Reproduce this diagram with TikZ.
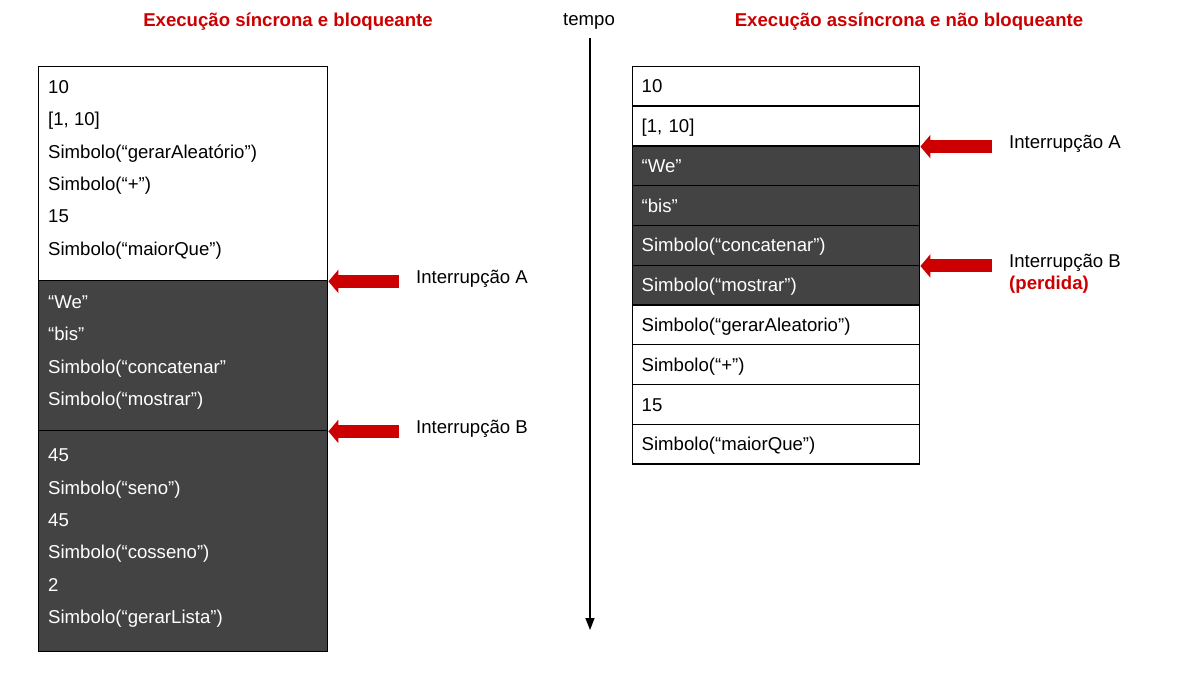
\documentclass[tikz,border=0pt]{standalone}
\usepackage{fontspec}
\setmainfont{Liberation Sans}
\usetikzlibrary{arrows.meta}
\definecolor{vermelho}{HTML}{CC0000}
\definecolor{escuro}{HTML}{434343}
\tikzset{
  caixa/.style={draw=black, line width=1.4pt, fill=white, inner sep=0pt, anchor=north west},
  escura/.style={caixa, fill=escuro, text=white},
  linha/.style={anchor=base west, inner sep=0pt},
  clara/.style={linha, text=white},
  titulo/.style={text=vermelho, font=\fontsize{18.6}{22}\selectfont\bfseries},
  rotulo/.style={anchor=base west, inner sep=0pt},
  interr/.style={vermelho, line width=13pt, -{Triangle[length=10pt,width=23pt]}, shorten <=17pt},
  registro/.style={minimum width=287pt, minimum height=39.8pt, text width=269pt,
    inner xsep=9pt, text height=13.3pt, text depth=0pt, align=left},
}
\begin{document}
\begin{tikzpicture}[x=1pt, y=-1pt, font=\fontsize{18.6}{22}\selectfont]
\useasboundingbox (0,0) rectangle (1204,689);
\node[titulo, anchor=base] (tsinc) at (288,26) {Execução síncrona e bloqueante};
\node[titulo, anchor=base] (tassinc) at (909,26) {Execução assíncrona e não bloqueante};
\node[anchor=base, inner sep=0pt] (tempo) at (589,25) {tempo};
\coordinate (fim) at (590,630);
\draw[line width=1.5pt, -{Triangle[length=12pt,width=9pt]}, shorten <=9pt] (tempo.south -| fim) -- (fim);
\node[caixa, minimum width=289pt, minimum height=214.3pt] (sincA) at (38,65.7) {};
\node[escura, minimum width=289pt, minimum height=150pt] (sincB) at (38,280) {};
\node[escura, minimum width=289pt, minimum height=221pt] (sincC) at (38,430) {};
\foreach \t [count=\i from 0] in {10, {[1, 10]}, Simbolo(“gerarAleatório”), Simbolo(“+”), 15, Simbolo(“maiorQue”)}
  \node[linha] (sa\i) at (48, 93.6+32.3*\i) {\t};
\foreach \t [count=\i from 0] in {“We”, “bis”, Simbolo(“concatenar”, Simbolo(“mostrar”)}
  \node[clara] (sb\i) at (48, 308.6+32.2*\i) {\t};
\foreach \t [count=\i from 0] in {45, Simbolo(“seno”), 45, Simbolo(“cosseno”), 2, Simbolo(“gerarLista”)}
  \node[clara] (sc\i) at (48, 461.6+32.4*\i) {\t};
\node[rotulo] (sintA) at (416,283.3) {Interrupção A};
\node[rotulo] (sintB) at (416,433.3) {Interrupção B};
\draw[interr] (sincA.south east -| sintA.west) -- (sincA.south east);
\draw[interr] (sincB.south east -| sintB.west) -- (sincB.south east);
\foreach \t/\e [count=\i from 0] in {10/caixa, {[1, 10]}/caixa, “We”/escura, “bis”/escura,
    Simbolo(“concatenar”)/escura, Simbolo(“mostrar”)/escura, Simbolo(“gerarAleatorio”)/caixa,
    Simbolo(“+”)/caixa, 15/caixa, Simbolo(“maiorQue”)/caixa}
  \node[\e, registro] (as\i) at (632, 65.7+39.76*\i) {\t};
\node[rotulo] (aintA) at (1009,148.3) {Interrupção A};
\node[rotulo] (aintB) at (1009,267.7) {Interrupção B};
\node[rotulo, titulo] (perdida) at (1009,289.6) {(perdida)};
\draw[interr] (as1.south east -| aintA.west) -- (as1.south east);
\draw[interr] (as4.south east -| aintB.west) -- (as4.south east);
\end{tikzpicture}
\end{document}
